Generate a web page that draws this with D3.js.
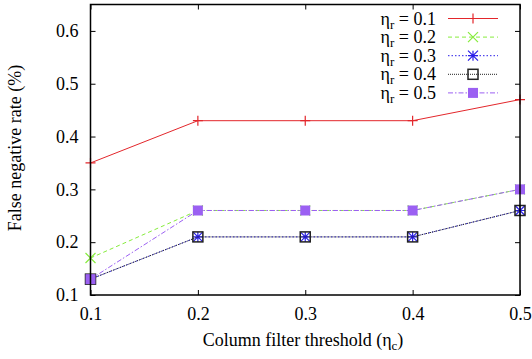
<!DOCTYPE html>
<html>
<head>
<meta charset="utf-8">
<script src="https://cdn.jsdelivr.net/npm/d3@7"></script>
<style>
  body { margin: 0; background: #fff; }
  svg text, svg tspan { font-family: "Liberation Serif", "Times New Roman", serif !important; }
</style>
</head>
<body>
<svg id="chart" width="532" height="359" font-family="Liberation Serif">
  <text id="xtitle" x="303" y="346" text-anchor="middle" font-family="Liberation Serif" font-size="18">Column filter threshold (η<tspan font-size="13" dy="4">c</tspan><tspan dy="-4">)</tspan></text>
  <text transform="translate(21, 148) rotate(-90)" text-anchor="middle" font-family="Liberation Serif" font-size="18">False negative rate (%)</text>
</svg>
<script>
const svgWidth = 532
const svgHeight = 359

const margin = { top: 4.5, right: 12, bottom: 64, left: 90.5 }
const chartWidth = svgWidth - margin.left - margin.right
const chartHeight = svgHeight - margin.top - margin.bottom

// data
const thresholds = [0.1, 0.2, 0.3, 0.4, 0.5]
const rowLabels = ["0.1", "0.2", "0.3", "0.4", "0.5"]
const eta01 = [0.35, 0.43, 0.43, 0.43, 0.47]
const eta02 = [0.17, 0.26, 0.26, 0.26, 0.30]
const eta03 = [0.13, 0.21, 0.21, 0.21, 0.26]
const eta04 = [0.13, 0.21, 0.21, 0.21, 0.26]
const eta05 = [0.13, 0.26, 0.26, 0.26, 0.30]
const xTicks = [0.1, 0.2, 0.3, 0.4, 0.5]
const yTicks = [0.1, 0.2, 0.3, 0.4, 0.5, 0.6]

const series = [
  { label: rowLabels[0], values: eta01, color: "#e3262b", dash: null, marker: "plus" },
  { label: rowLabels[1], values: eta02, color: "#86ec3c", dash: "4,3", marker: "cross" },
  { label: rowLabels[2], values: eta03, color: "#2a1ee8", dash: "1.5,2", marker: "star" },
  { label: rowLabels[3], values: eta04, color: "#222", dash: "1,1", marker: "box" },
  { label: rowLabels[4], values: eta05, color: "#9b60f2", dash: "5,2,1.5,2", marker: "fbox" }
]

const fs = 18

const svg = d3.select("#chart")

const chartG = svg.append("g")
  .attr("transform", `translate(${margin.left}, ${margin.top})`)

const x = d3.scaleLinear().domain([0.1, 0.5]).range([0, chartWidth])
const y = d3.scaleLinear().domain([0.1, 0.65]).range([chartHeight, 0])

const tickLen = 5

// y ticks (left + mirrored right)
chartG.append("g")
  .call(d3.axisLeft(y).tickValues(yTicks).tickSize(-tickLen).tickPadding(12).tickFormat(d3.format(".1f")))
  .call(g => g.select(".domain").remove())
chartG.append("g")
  .attr("transform", `translate(${chartWidth}, 0)`)
  .call(d3.axisRight(y).tickValues(yTicks).tickSize(-tickLen).tickFormat(""))
  .call(g => g.select(".domain").remove())

// x ticks (bottom + mirrored top)
chartG.append("g")
  .attr("transform", `translate(0, ${chartHeight})`)
  .call(d3.axisBottom(x).tickValues(xTicks).tickSize(-tickLen).tickPadding(12).tickFormat(d3.format(".1f")))
  .call(g => g.select(".domain").remove())
chartG.append("g")
  .call(d3.axisTop(x).tickValues(xTicks).tickSize(-tickLen).tickFormat(""))
  .call(g => g.select(".domain").remove())

chartG.selectAll(".tick line").attr("stroke", "#000").attr("stroke-width", 1)
chartG.selectAll("g").attr("font-family", "Liberation Serif").attr("font-size", fs)
chartG.selectAll("text").attr("font-family", "Liberation Serif").attr("font-size", fs)

const line = d3.line()
  .x((d, i) => x(thresholds[i]))
  .y(d => y(d))

function drawMarker(g, type, color) {
  const s = 5
  if (type === "plus") {
    g.append("path").attr("d", `M${-s},0H${s}M0,${-s}V${s}`).attr("stroke", color).attr("stroke-width", 1.2)
  } else if (type === "cross") {
    g.append("path").attr("d", `M${-s},${-s}L${s},${s}M${-s},${s}L${s},${-s}`).attr("stroke", color).attr("stroke-width", 1.2)
  } else if (type === "star") {
    g.append("path").attr("d", `M${-s},0H${s}M0,${-s}V${s}M${-s},${-s}L${s},${s}M${-s},${s}L${s},${-s}`).attr("stroke", color).attr("stroke-width", 1.2)
  } else if (type === "box") {
    g.append("rect").attr("x", -s).attr("y", -s).attr("width", 2 * s).attr("height", 2 * s)
      .attr("fill", "none").attr("stroke", color).attr("stroke-width", 1.5)
  } else if (type === "fbox") {
    g.append("rect").attr("x", -s).attr("y", -s).attr("width", 2 * s).attr("height", 2 * s)
      .attr("fill", color)
  }
}

series.forEach(s => {
  chartG.append("path")
    .attr("d", line(s.values))
    .attr("fill", "none")
    .attr("stroke", s.color)
    .attr("stroke-width", 1)
    .attr("stroke-dasharray", s.dash)
  chartG.selectAll(null)
    .data(s.values)
    .enter()
    .append("g")
    .attr("transform", (d, i) => `translate(${x(thresholds[i])}, ${y(d)})`)
    .each(function () { drawMarker(d3.select(this), s.marker, s.color) })
})

// frame
chartG.append("rect")
  .attr("width", chartWidth)
  .attr("height", chartHeight)
  .attr("fill", "none")
  .attr("stroke", "#000")
  .attr("stroke-width", 1.5)

// legend
const legend = svg.append("g")
  .attr("font-family", "Liberation Serif")
  .attr("font-size", fs)
series.forEach((s, i) => {
  const ly = 18.5 + i * 18.6
  const t = legend.append("text")
    .attr("x", 436)
    .attr("y", ly + 6)
    .attr("text-anchor", "end")
    .attr("font-family", "Liberation Serif")
  t.append("tspan").text("η")
  t.append("tspan").attr("font-size", 13).attr("dy", 4).text("r")
  t.append("tspan").attr("dy", -4).text(" = " + s.label)
  legend.append("line")
    .attr("x1", 448).attr("x2", 498)
    .attr("y1", ly).attr("y2", ly)
    .attr("stroke", s.color)
    .attr("stroke-width", 1)
    .attr("stroke-dasharray", s.dash)
  drawMarker(legend.append("g").attr("transform", `translate(473, ${ly})`), s.marker, s.color)
})
</script>
</body>
</html>
